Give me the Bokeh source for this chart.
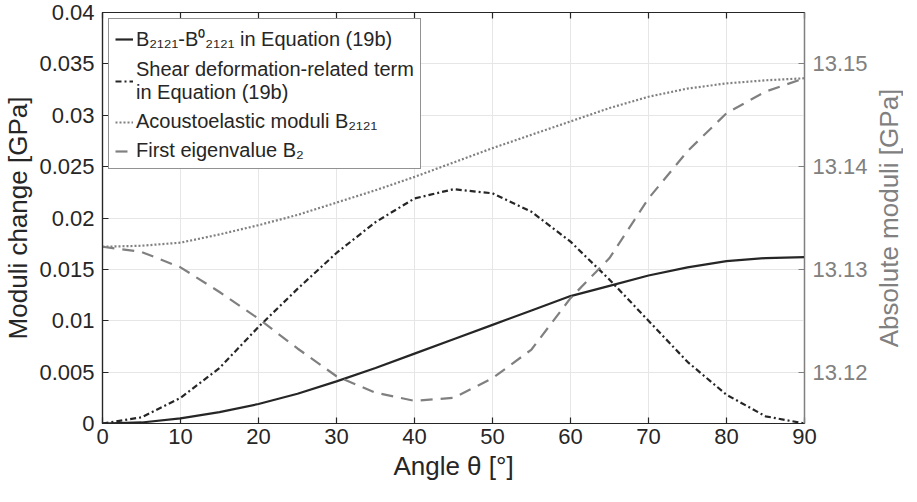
import math
from bokeh.plotting import figure
from bokeh.layouts import row
from bokeh.models import (Range1d, LinearAxis, FixedTicker, NumeralTickFormatter,
                          Legend, LegendItem)
from bokeh.core.properties import value
from bokeh.embed import file_html
from bokeh.resources import INLINE

# ---- data ----
theta = [0, 5, 10, 15, 20, 25, 30, 35, 40, 45, 50, 55, 60, 65, 70, 75, 80, 85, 90]
b_diff = [0, 0.0001, 0.0005, 0.0011, 0.0019, 0.0029, 0.0041, 0.0054, 0.0068, 0.0082,
          0.0096, 0.0110, 0.0124, 0.0134, 0.0144, 0.0152, 0.0158, 0.0161, 0.0162]
shear = [0, 0.0006, 0.0025, 0.0054, 0.0094, 0.0131, 0.0166, 0.0196, 0.0219, 0.0228,
         0.0224, 0.0206, 0.0177, 0.0140, 0.0100, 0.0060, 0.0028, 0.0007, 0.0]
acousto = [13.1322, 13.1323, 13.1326, 13.1334, 13.1343, 13.1353, 13.1365, 13.1377,
           13.1390, 13.1404, 13.1418, 13.1431, 13.1444, 13.1457, 13.1468, 13.1476,
           13.1481, 13.1484, 13.1486]
eigen = [13.1322, 13.1317, 13.1302, 13.1278, 13.1252, 13.1223, 13.1196, 13.1180,
         13.1172, 13.1175, 13.1194, 13.1222, 13.1272, 13.1311, 13.1369, 13.1415,
         13.1452, 13.1473, 13.1486]

x_ticks = [0, 10, 20, 30, 40, 50, 60, 70, 80, 90]
left_ticks = [0, 0.005, 0.01, 0.015, 0.02, 0.025, 0.03, 0.035, 0.04]
right_ticks = [13.12, 13.13, 13.14, 13.15]

labels = ["B₂₁₂₁-B⁰₂₁₂₁ in Equation (19b)",
          "Shear deformation-related term\nin Equation (19b)",
          "Acoustoelastic moduli B₂₁₂₁",
          "First eigenvalue B₂"]
x_title = "Angle θ [°]"
y_title = "Moduli change [GPa]"
y2_title = "Absolute moduli [GPa]"

DARK = "#262626"
GRAY = "#808080"
FONT = "Liberation Sans"
FW, FH = 702, 411
TOP, BOTTOM = 12, 63

p = figure(frame_width=FW, frame_height=FH, output_backend="svg",
           toolbar_location=None,
           x_range=Range1d(0, 90), y_range=Range1d(0, 0.04),
           min_border_left=100, min_border_right=66, min_border_top=TOP,
           min_border_bottom=BOTTOM)
p.extra_y_ranges = {"abs": Range1d(13.115, 13.155)}

# grid
p.xgrid.ticker = FixedTicker(ticks=x_ticks)
p.ygrid.ticker = FixedTicker(ticks=left_ticks)
for g in (p.xgrid, p.ygrid):
    g.grid_line_color = "#e6e6e6"
    g.grid_line_width = 1

p.outline_line_color = DARK
p.outline_line_width = 1.2

# bottom axis
xa = p.xaxis[0]
xa.ticker = FixedTicker(ticks=x_ticks)
xa.axis_label = x_title
# left axis
ya = p.yaxis[0]
ya.ticker = FixedTicker(ticks=left_ticks)
ya.formatter = NumeralTickFormatter(format="0.[000]")
ya.axis_label = y_title

for ax in (xa, ya):
    ax.axis_line_color = DARK
    ax.major_tick_line_color = DARK
    ax.major_label_text_color = DARK
    ax.axis_label_text_color = DARK

# right axis
ra = LinearAxis(y_range_name="abs", ticker=FixedTicker(ticks=right_ticks),
                formatter=NumeralTickFormatter(format="0.00"))
ra.axis_line_color = GRAY
ra.major_tick_line_color = GRAY
ra.major_label_text_color = GRAY
p.add_layout(ra, "right")

# top axis (tick marks only, no labels drawn)
ta = LinearAxis(ticker=FixedTicker(ticks=x_ticks))
ta.major_label_text_font_size = "1px"
ta.major_label_text_color = None
ta.major_label_standoff = 0
ta.axis_line_color = DARK
ta.major_tick_line_color = DARK
p.add_layout(ta, "above")

for ax in (xa, ya, ra, ta):
    ax.major_tick_in = 6
    ax.major_tick_out = 0
    ax.minor_tick_line_color = None
    ax.axis_line_width = 1.2
    ax.major_tick_line_width = 1.2
    ax.major_label_text_font = FONT
    ax.axis_label_text_font = FONT
    ax.axis_label_text_font_style = "normal"

for ax in (xa, ya, ra):
    ax.major_label_text_font_size = "22px"
    ax.axis_label_text_font_size = "26px"
    ax.major_label_standoff = 8
xa.major_label_standoff = 5
xa.axis_label_standoff = 4
ya.axis_label_standoff = 3
ra.major_label_standoff = 8

# curves
r1 = p.line(theta, b_diff, line_color=DARK, line_width=2.2)
r2 = p.line(theta, shear, line_color=DARK, line_width=2.2, line_dash="6 3 2 3")
r3 = p.line(theta, acousto, line_color=GRAY, line_width=2.2, line_dash="2 2",
            y_range_name="abs")
r4 = p.line(theta, eigen, line_color=GRAY, line_width=2.2, line_dash="12 8",
            y_range_name="abs")

legend = Legend(items=[LegendItem(label=labels[0], renderers=[r1]),
                       LegendItem(label=labels[1], renderers=[r2]),
                       LegendItem(label=labels[2], renderers=[r3]),
                       LegendItem(label=labels[3], renderers=[r4])],
                location="top_left", margin=6, padding=6, spacing=6,
                glyph_width=18, label_standoff=3,
                label_text_font=FONT, label_text_font_size="20px",
                label_text_color=DARK, border_line_color=DARK,
                border_line_width=1, background_fill_alpha=1)
p.add_layout(legend, "center")

# narrow strip on the right holding the right-axis title (reads bottom-to-top)
SW = 33
s = figure(width=SW, height=TOP + FH + BOTTOM, output_backend="svg",
           toolbar_location=None, x_axis_type=None, y_axis_type=None,
           x_range=Range1d(0, SW), y_range=Range1d(0, FH),
           min_border_left=0, min_border_right=0, min_border_top=TOP,
           min_border_bottom=BOTTOM)
s.outline_line_color = None
s.xgrid.visible = False
s.ygrid.visible = False
s.text(x=[18.5], y=[FH / 2], text=[y2_title], angle=math.pi / 2,
       text_align="center", text_baseline="middle",
       text_font=value(FONT), text_font_size="26px", text_color=GRAY)

layout = row(p, s)
open("out.html", "w").write(file_html(layout, INLINE))
